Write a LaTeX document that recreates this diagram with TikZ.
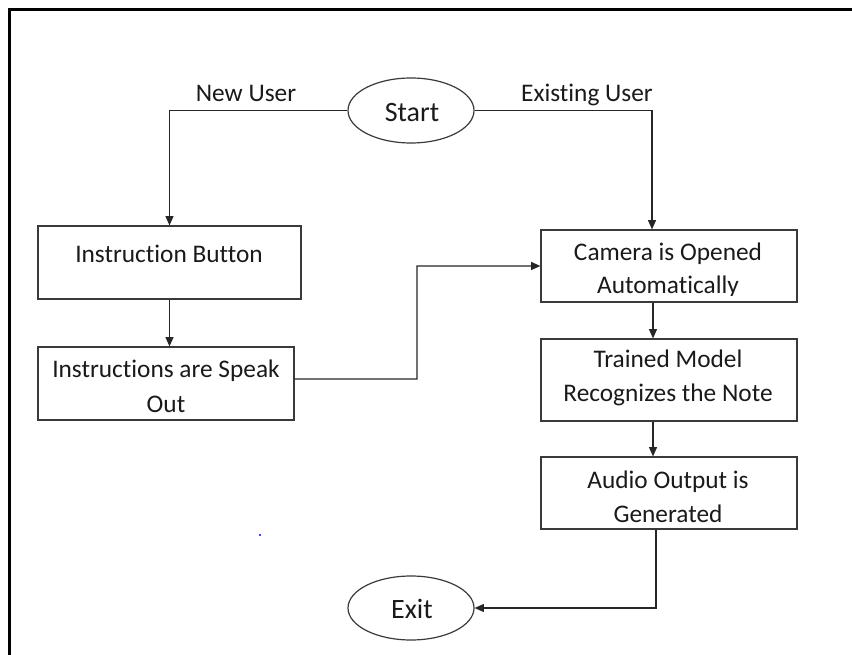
\documentclass[tikz,border=0pt]{standalone}
\usepackage{fontspec}
\setmainfont[Ligatures=NoCommon,RawFeature={-liga;-clig;-dlig}]{Carlito}
\usetikzlibrary{arrows.meta,shapes.geometric,fit}
\definecolor{boxgray}{HTML}{3A3A3A}
\definecolor{linegray}{HTML}{262626}
\definecolor{txtgray}{HTML}{1A1A1A}
\begin{document}
\begin{tikzpicture}[x=0.75pt,y=-0.75pt,
  box/.style={draw=boxgray, line width=0.9pt, inner sep=0pt, rectangle},
  oval/.style={draw=boxgray, line width=0.9pt, ellipse, inner sep=0pt},
  conn/.style={draw=linegray, line width=0.9pt, -{Triangle[length=7pt,width=6pt]}},
  txt/.style={anchor=base, inner sep=0pt, font=\fontsize{19}{24}\selectfont, text=txtgray},
  big/.style={anchor=base, inner sep=0pt, font=\fontsize{21}{25}\selectfont, text=txtgray}]
\useasboundingbox (0,0) rectangle (852,655);
\fill[white] (0,0) rectangle (852,655);
\draw[line width=1.8pt, black] (9.5,655) -- (9.5,9.5) -- (852,9.5);

% nodes
\node[oval, minimum width=94.5pt, minimum height=48.75pt] (start) at (411,110.5) {};
\node[big] (tstart) at (412,122) {Start};

\node[box, fit={(38,226) (301,299)}] (ib) {};
\node[txt] (tib) at (169,263) {Instruction Button};

\node[box, fit={(38,347) (294,420)}] (is) {};
\node[txt] (tis1) at (166,378) {Instructions are Speak};
\node[txt] (tis2) at (166,412) {Out};

\node[box, fit={(541,230) (797,302)}] (cam) {};
\node[txt] (tcam1) at (668,261) {Camera is Opened};
\begin{scope}
  \clip (541,230) rectangle (797,295.5);
  \node[txt] (tcam2) at (668,294) {Automatically};
\end{scope}

\node[box, fit={(541,339) (797,421)}] (tm) {};
\node[txt] (ttm1) at (668,368) {Trained Model};
\node[txt] (ttm2) at (668,402) {Recognizes the Note};

\node[box, fit={(541,457) (797,529)}] (ao) {};
\node[txt] (tao1) at (668,488) {Audio Output is};
\node[txt] (tao2) at (668,522) {Generated};

\node[oval, minimum width=94.5pt, minimum height=48pt] (exit) at (411,608) {};
\node[big] (texit) at (412,618) {Exit};

\node[txt] (lnew) at (246,102) {New User};
\node[txt] (lexist) at (587,102) {Existing User};

% connectors
\draw[conn] (start.west) -| (ib.north);
\draw[conn] (start.east) -| ([xshift=-12.75pt]cam.north);
\draw[conn] (ib.south) -- (ib.south |- is.north);
\coordinate (bend) at (417,379);
\draw[conn] ([yshift=3.4pt]is.east) -- (bend) |- (cam.west);
\draw[conn] ([xshift=-12pt]cam.south) -- ([xshift=-12pt]tm.north);
\draw[conn] ([xshift=-12pt]tm.south) -- ([xshift=-12pt]ao.north);
\draw[conn] ([xshift=-9.75pt]ao.south) |- (exit.east);

\fill[blue] (260,535) circle (0.9pt);
\end{tikzpicture}
\end{document}
